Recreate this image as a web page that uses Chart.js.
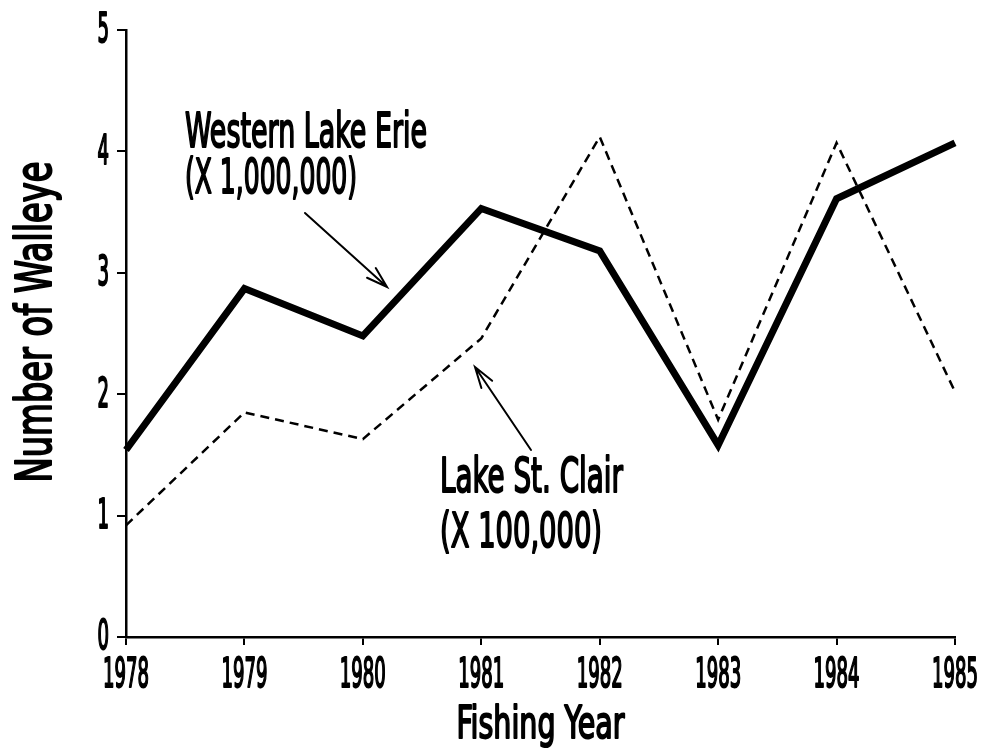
<!DOCTYPE html>
<html>
<head>
<meta charset="utf-8">
<script src="https://cdn.jsdelivr.net/npm/chart.js@4"></script>
<style>
  body { margin: 0; background: #fff; }
  #wrap { width: 986px; height: 755px; }
</style>
</head>
<body>
<div id="wrap"><canvas id="walleye" width="986" height="755"></canvas></div>
<script>
// values
const years = ['1978', '1979', '1980', '1981', '1982', '1983', '1984', '1985'];
const westernErie = [1.54, 2.87, 2.48, 3.53, 3.18, 1.58, 3.61, 4.07]; // x 1,000,000
const lakeStClair = [0.92, 1.85, 1.63, 2.46, 4.12, 1.79, 4.07, 2.02]; // x 100,000
const yTicks = [0, 1, 2, 3, 4, 5];

const FONT = "'Liberation Sans Narrow', 'DejaVu Sans Condensed', sans-serif";
const WEIGHT = 'normal';

// draws text squeezed horizontally so it fits a given width
const condText = (ctx, str, x, y, size, width, align = 'left') => {
  ctx.save();
  ctx.font = `${WEIGHT} ${size}px ${FONT}`;
  const w = ctx.measureText(str).width;
  const sx = width / w;
  ctx.translate(x, y);
  ctx.scale(sx, 1);
  ctx.textBaseline = 'alphabetic';
  ctx.textAlign = align;
  ctx.fillStyle = '#000';
  ctx.fillText(str, 0, 0);
  // stroke to thicken the plotter-like lettering a bit
  ctx.lineWidth = 2;
  ctx.lineJoin = 'round';
  ctx.strokeStyle = '#000';
  ctx.strokeText(str, 0, 0);
  ctx.restore();
};

const arrow = (ctx, x1, y1, x2, y2) => {
  const ang = Math.atan2(y2 - y1, x2 - x1);
  const len = 22;
  ctx.save();
  ctx.strokeStyle = '#000';
  ctx.lineWidth = 2;
  ctx.lineCap = 'round';
  ctx.beginPath();
  ctx.moveTo(x1, y1);
  ctx.lineTo(x2, y2);
  ctx.moveTo(x2 - len * Math.cos(ang - 0.3), y2 - len * Math.sin(ang - 0.3));
  ctx.lineTo(x2, y2);
  ctx.lineTo(x2 - len * Math.cos(ang + 0.3), y2 - len * Math.sin(ang + 0.3));
  ctx.stroke();
  ctx.restore();
};

const textPlugin = {
  id: 'walleyeText',
  beforeDraw(chart) {
    const ctx = chart.ctx;
    ctx.save();
    ctx.fillStyle = '#fff';
    ctx.fillRect(0, 0, chart.width, chart.height);
    ctx.restore();
  },
  afterDraw(chart) {
    const ctx = chart.ctx;
    const xs = chart.scales.x;
    const ys = chart.scales.y;
    const tickSize = 40;
    const capH = tickSize * 0.72;

    // squeeze for tick digits, taken from one 4 digit year label
    ctx.save();
    ctx.font = `${WEIGHT} ${tickSize}px ${FONT}`;
    const sx = 46 / ctx.measureText('1978').width;
    ctx.restore();

    years.forEach((yr, i) => {
      const px = xs.getPixelForValue(i);
      ctx.save();
      ctx.font = `${WEIGHT} ${tickSize}px ${FONT}`;
      const w = ctx.measureText(yr).width * sx;
      ctx.restore();
      condText(ctx, yr, px, ys.bottom + 21 + capH, tickSize, w, 'center');
    });

    yTicks.forEach((v) => {
      const py = ys.getPixelForValue(v);
      ctx.save();
      ctx.font = `${WEIGHT} ${tickSize}px ${FONT}`;
      const w = ctx.measureText(String(v)).width * sx;
      ctx.restore();
      condText(ctx, String(v), xs.left - 17, py + capH / 2 - 2, tickSize, w, 'right');
    });

    // axis titles
    condText(ctx, 'Fishing Year', (xs.left + xs.right) / 2, 738, 44, 168, 'center');
    ctx.save();
    ctx.translate(51, 322);
    ctx.rotate(-Math.PI / 2);
    condText(ctx, 'Number of Walleye', 0, 0, 50, 321, 'center');
    ctx.restore();

    // series notes
    condText(ctx, 'Western Lake Erie', 185, 147, 48, 242);
    condText(ctx, '(X 1,000,000)', 185, 193, 48, 172);
    condText(ctx, 'Lake St. Clair', 440, 492, 48, 183);
    condText(ctx, '(X 100,000)', 440, 547, 48, 162);

    arrow(ctx, 305, 213, 387, 287);
    arrow(ctx, 531, 450, 475, 367);
  },
};

new Chart(document.getElementById('walleye').getContext('2d'), {
  type: 'line',
  data: {
    labels: years,
    datasets: [
      {
        label: 'Lake St. Clair (X 100,000)',
        data: lakeStClair,
        borderColor: '#000',
        borderWidth: 2.5,
        borderDash: [9, 6],
        pointRadius: 0,
        tension: 0,
        fill: false,
      },
      {
        label: 'Western Lake Erie (X 1,000,000)',
        data: westernErie,
        borderColor: '#000',
        borderWidth: 7,
        pointRadius: 0,
        tension: 0,
        fill: false,
      },
    ],
  },
  options: {
    responsive: false,
    animation: false,
    layout: { padding: { left: 0, right: 31, top: 30, bottom: 0 } },
    plugins: {
      legend: { display: false },
      tooltip: { enabled: false },
    },
    scales: {
      x: {
        type: 'category',
        offset: false,
        grid: { drawOnChartArea: false, drawTicks: true, tickLength: 8, color: '#000', lineWidth: 2 },
        border: { display: true, color: '#000', width: 2.5 },
        ticks: { display: false },
        afterFit: (scale) => { scale.height = 118; },
      },
      y: {
        min: 0,
        max: 5,
        ticks: { display: false, stepSize: 1 },
        grid: { drawOnChartArea: false, drawTicks: true, tickLength: 9, color: '#000', lineWidth: 2 },
        border: { display: true, color: '#000', width: 2.5 },
        afterFit: (scale) => { scale.width = 126; },
      },
    },
  },
  plugins: [textPlugin],
});
</script>
</body>
</html>
